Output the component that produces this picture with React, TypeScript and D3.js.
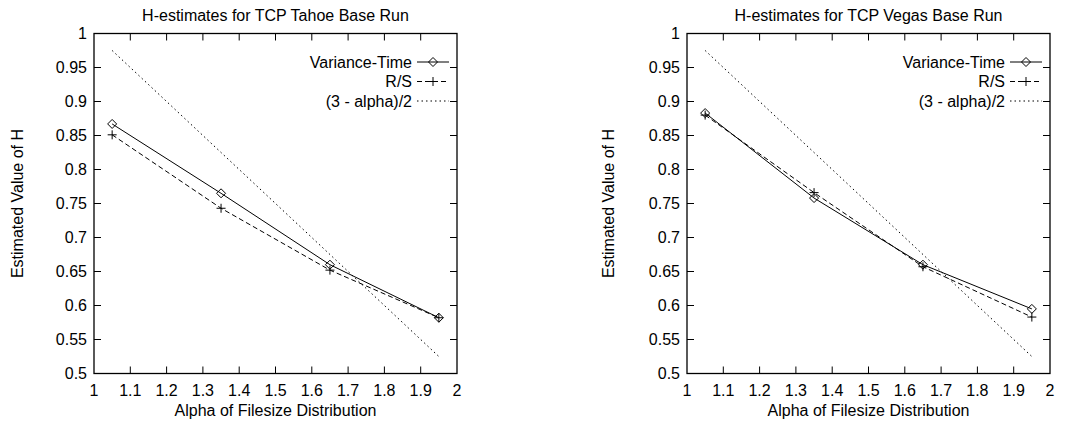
import React, { useEffect, useRef } from 'react';
import * as d3 from 'd3';

// data
const alphas = [1.05, 1.35, 1.65, 1.95];
const tahoeVarianceTime = [0.867, 0.765, 0.66, 0.582];
const tahoeRS = [0.851, 0.743, 0.652, 0.582];
const vegasVarianceTime = [0.883, 0.758, 0.66, 0.595];
const vegasRS = [0.88, 0.766, 0.657, 0.583];
const theoretical = [0.975, 0.825, 0.675, 0.525]; // (3 - alpha)/2

const xTicks = [1, 1.1, 1.2, 1.3, 1.4, 1.5, 1.6, 1.7, 1.8, 1.9, 2];
const yTicks = [0.5, 0.55, 0.6, 0.65, 0.7, 0.75, 0.8, 0.85, 0.9, 0.95, 1];
const legendLabels = ['Variance-Time', 'R/S', '(3 - alpha)/2'];

const panels = [
  { title: 'H-estimates for TCP Tahoe Base Run', left: 94, vt: tahoeVarianceTime, rs: tahoeRS, ylabX: 17 },
  { title: 'H-estimates for TCP Vegas Base Run', left: 687, vt: vegasVarianceTime, rs: vegasRS, ylabX: 608 },
];

const FONT = '"Liberation Sans", Arial, Helvetica, sans-serif';
const FS = 16;

const App = () => {
  const ref = useRef<SVGSVGElement>(null);

  useEffect(() => {
    const svg = d3.select(ref.current);
    svg.selectAll('*').remove();

    const top = 33.5;
    const bottom = 373.5;
    const plotW = 363;
    const tick = 7;

    const diamond = (g: any, x: number, y: number) => {
      g.append('path')
        .attr('d', `M${x},${y - 4.5}L${x + 4.5},${y}L${x},${y + 4.5}L${x - 4.5},${y}Z`)
        .attr('fill', 'none').attr('stroke', '#000').attr('stroke-width', 1);
    };
    const plus = (g: any, x: number, y: number) => {
      g.append('path')
        .attr('d', `M${x - 4.5},${y}H${x + 4.5}M${x},${y - 4.5}V${y + 4.5}`)
        .attr('fill', 'none').attr('stroke', '#000').attr('stroke-width', 1);
    };

    panels.forEach(p => {
      const x = d3.scaleLinear().domain([1, 2]).range([p.left, p.left + plotW]);
      const y = d3.scaleLinear().domain([0.5, 1]).range([bottom, top]);
      const g = svg.append('g').style('font-family', FONT);

      // inside ticks on all four sides
      xTicks.forEach(t => {
        if (t === 1 || t === 2) return;
        g.append('line').attr('x1', x(t)).attr('x2', x(t)).attr('y1', bottom).attr('y2', bottom - tick).attr('stroke', '#000');
        g.append('line').attr('x1', x(t)).attr('x2', x(t)).attr('y1', top).attr('y2', top + tick).attr('stroke', '#000');
      });
      yTicks.forEach(t => {
        if (t === 0.5 || t === 1) return;
        g.append('line').attr('x1', x(1)).attr('x2', x(1) + tick).attr('y1', y(t)).attr('y2', y(t)).attr('stroke', '#000');
        g.append('line').attr('x1', x(2)).attr('x2', x(2) - tick).attr('y1', y(t)).attr('y2', y(t)).attr('stroke', '#000');
      });

      g.selectAll('.xt').data(xTicks).enter().append('text')
        .attr('x', d => x(d)).attr('y', 396)
        .attr('text-anchor', 'middle').attr('font-size', FS)
        .text(d => d3.format('~g')(d));
      g.selectAll('.yt').data(yTicks).enter().append('text')
        .attr('x', x(1) - 7).attr('y', d => y(d) + 5.5)
        .attr('text-anchor', 'end').attr('font-size', FS)
        .text(d => d3.format('~g')(d));

      g.append('text').attr('x', (x(1) + x(2)) / 2).attr('y', 21)
        .attr('text-anchor', 'middle').attr('font-size', FS).text(p.title);
      g.append('text').attr('x', (x(1) + x(2)) / 2).attr('y', 416)
        .attr('text-anchor', 'middle').attr('font-size', FS).text('Alpha of Filesize Distribution');
      g.append('text')
        .attr('transform', `translate(${p.ylabX + 6},${(top + bottom) / 2}) rotate(-90)`)
        .attr('text-anchor', 'middle').attr('font-size', FS).text('Estimated Value of H');

      const line = d3.line<number>().x((d, i) => x(alphas[i])).y(d => y(d));

      g.append('path').datum(theoretical).attr('d', line).attr('fill', 'none')
        .attr('stroke', '#000').attr('stroke-width', 1).attr('stroke-dasharray', '1.5,3');
      g.append('path').datum(p.rs).attr('d', line).attr('fill', 'none')
        .attr('stroke', '#000').attr('stroke-width', 1).attr('stroke-dasharray', '5,3');
      g.append('path').datum(p.vt).attr('d', line).attr('fill', 'none')
        .attr('stroke', '#000').attr('stroke-width', 1);

      p.vt.forEach((v, i) => diamond(g, x(alphas[i]), y(v)));
      p.rs.forEach((v, i) => plus(g, x(alphas[i]), y(v)));

      // legend
      const lx = x(2) - 40;
      legendLabels.forEach((lab, i) => {
        const ly = 62 + i * 19.5;
        g.append('text').attr('x', lx - 5).attr('y', ly + 5.5)
          .attr('text-anchor', 'end').attr('font-size', FS).text(lab);
        const seg = g.append('line').attr('x1', lx).attr('x2', lx + 32).attr('y1', ly).attr('y2', ly)
          .attr('stroke', '#000').attr('stroke-width', 1);
        if (i === 1) seg.attr('stroke-dasharray', '5,3');
        if (i === 2) seg.attr('stroke-dasharray', '1.5,3');
        if (i === 0) diamond(g, lx + 16, ly);
        if (i === 1) plus(g, lx + 16, ly);
      });

      // frame
      g.append('rect').attr('x', x(1)).attr('y', top).attr('width', plotW).attr('height', bottom - top)
        .attr('fill', 'none').attr('stroke', '#000').attr('stroke-width', 1.3);
    });
  }, []);

  return (
    <svg ref={ref} width={1075} height={423}
      style={{ position: 'absolute', left: 0, top: 0, background: '#fff' }} />
  );
};

export default App;
